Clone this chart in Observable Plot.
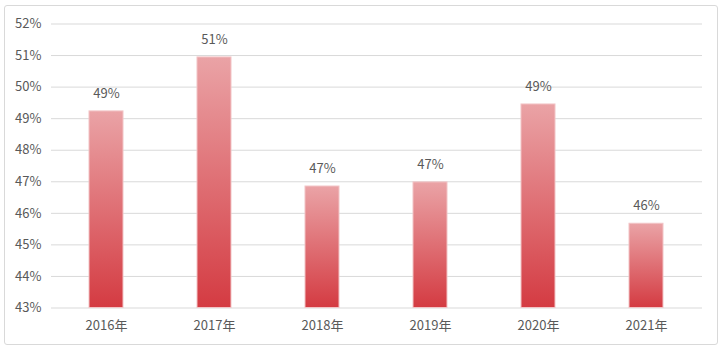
<!DOCTYPE html>
<html>
<head>
<meta charset="utf-8">
<script src="https://cdn.jsdelivr.net/npm/d3@7"></script>
<script src="https://cdn.jsdelivr.net/npm/@observablehq/plot@0.6"></script>
<style>
  html, body { margin: 0; padding: 0; background: #fff; }
  #wrap { position: relative; width: 727px; height: 352px; }
  #border { position: absolute; left: 4px; top: 5px; width: 714px; height: 340px; border: 1px solid #d9d9d9; border-radius: 3px; box-sizing: border-box; pointer-events: none; }
  #chart svg { display: block; }
</style>
</head>
<body>
<div id="wrap">
  <div id="chart"></div>
  <div id="border"></div>
</div>
<script>
const years = ["2016年", "2017年", "2018年", "2019年", "2020年", "2021年"];
const shares = [0.4923, 0.5094, 0.4685, 0.4698, 0.4945, 0.4567];
const yTicks = [0.43, 0.44, 0.45, 0.46, 0.47, 0.48, 0.49, 0.50, 0.51, 0.52];
const yMin = 0.43, yMax = 0.52;

const data = years.map((y, i) => ({year: y, share: shares[i]}));
const font = "'Noto Sans CJK SC', 'Noto Sans', sans-serif";

const chart = Plot.plot({
  width: 727,
  height: 352,
  marginLeft: 51,
  marginRight: 25,
  marginTop: 23.5,
  marginBottom: 44.5,
  style: {fontFamily: font, fontSize: "13px", color: "#595959", background: "transparent"},
  x: {domain: years, paddingInner: 0.685, paddingOuter: 0.3425, label: null, tickSize: 0, tickPadding: 13},
  y: {domain: [yMin, yMax], ticks: yTicks, tickFormat: d3.format(".0%"), label: null, tickSize: 0, tickPadding: 10},
  marks: [
    Plot.gridY(yTicks, {stroke: "#d9d9d9", strokeOpacity: 1, strokeWidth: 1}),
    Plot.barY(data, {x: "year", y1: yMin, y2: "share", fill: "url(#barGrad)", stroke: "#f2c4c6", strokeWidth: 1}),
    Plot.text(data, {x: "year", y: "share", text: d => d3.format(".0%")(d.share), dy: -18, fill: "#595959", fontSize: 13})
  ]
});

const svg = d3.select(chart);
const defs = svg.insert("defs", ":first-child");
const grad = defs.append("linearGradient").attr("id", "barGrad").attr("x1", 0).attr("y1", 0).attr("x2", 0).attr("y2", 1);
grad.append("stop").attr("offset", "0%").attr("stop-color", "#eaa3a6");
grad.append("stop").attr("offset", "100%").attr("stop-color", "#d43b42");

document.getElementById("chart").appendChild(chart);
</script>
</body>
</html>
